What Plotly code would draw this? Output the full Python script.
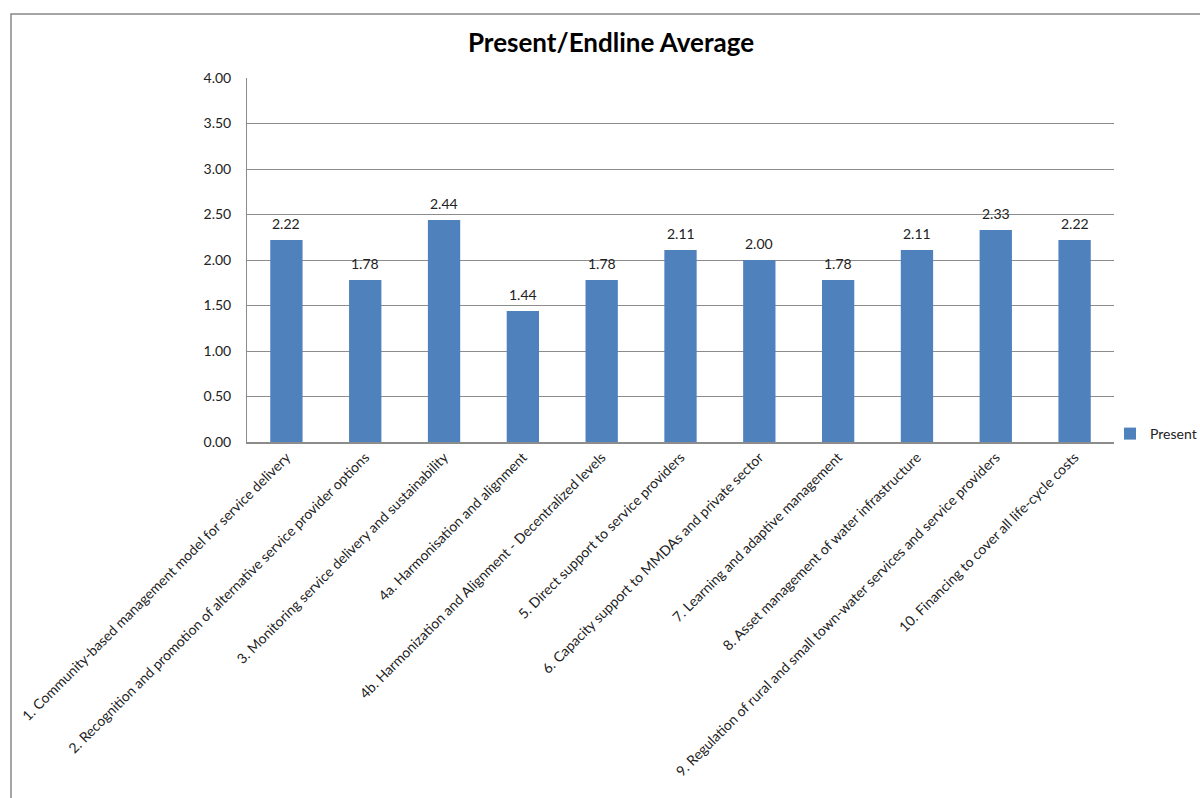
import plotly.graph_objects as go

categories = [
    "1. Community-based management model for service delivery",
    "2. Recognition and promotion of alternative service provider options",
    "3. Monitoring service delivery and sustainability",
    "4a. Harmonisation and alignment",
    "4b. Harmonization and Alignment - Decentralized levels",
    "5. Direct support to service providers",
    "6. Capacity support to MMDAs and private sector",
    "7. Learning and adaptive management",
    "8. Asset management of water infrastructure",
    "9. Regulation of rural and small town-water services and service providers",
    "10. Financing to cover all life-cycle costs",
]
present = [2.22, 1.78, 2.44, 1.44, 1.78, 2.11, 2.00, 1.78, 2.11, 2.33, 2.22]
y_ticks = [0, 0.5, 1.0, 1.5, 2.0, 2.5, 3.0, 3.5, 4.0]

W, H = 1200, 798
L, R, T, B = 247, 1114, 78, 442
pw, ph = R - L, B - T

FONT = "Lato, 'Open Sans', sans-serif"
BLUE = "#4F81BD"
GRID = "#8C8C8C"

fig = go.Figure(
    go.Bar(
        x=categories,
        y=present,
        name="Present",
        marker=dict(color=BLUE, line=dict(width=0)),
    )
)

# value labels above each bar
for cat, val in zip(categories, present):
    fig.add_annotation(
        x=cat, y=val, text=f"{val:.2f}", showarrow=False,
        yanchor="bottom", yshift=6,
        font=dict(family=FONT, size=14, color="#222"),
    )

# outer chart frame
fig.add_shape(
    type="rect", xref="paper", yref="paper",
    x0=(11 - L) / pw, x1=(1230 - L) / pw,
    y0=(B - 830) / ph, y1=(B - 14) / ph,
    line=dict(color="#888888", width=1.5), fillcolor="rgba(0,0,0,0)", layer="below",
)

fig.update_layout(
    width=W, height=H,
    margin=dict(l=L, r=W - R, t=T, b=H - B, autoexpand=False),
    paper_bgcolor="white", plot_bgcolor="white",
    bargap=0.59,
    showlegend=True,
    title=dict(
        text="<b>Present/Endline Average</b>",
        x=611 / W, xref="container", xanchor="center",
        y=1 - 43 / H, yref="container", yanchor="middle",
        font=dict(family=FONT, size=26, color="#000"),
    ),
    legend=dict(
        x=(1110 - L) / pw, xanchor="left",
        y=(B - 434) / ph, yanchor="middle",
        font=dict(family=FONT, size=14, color="#222"),
        itemwidth=30, bgcolor="rgba(0,0,0,0)",
    ),
    xaxis=dict(
        tickangle=-45,
        tickfont=dict(family=FONT, size=14, color="#222"),
        showline=True, linecolor=GRID, linewidth=1.5,
        showgrid=False, ticks="",
    ),
    yaxis=dict(
        range=[0, 4],
        tickvals=y_ticks,
        tickformat=".2f",
        tickfont=dict(family=FONT, size=14, color="#222"),
        showgrid=True, gridcolor=GRID, gridwidth=1,
        showline=True, linecolor=GRID, linewidth=1,
        zeroline=False, ticks="", ticklabelstandoff=12,
    ),
)

fig.write_html("out.html")
